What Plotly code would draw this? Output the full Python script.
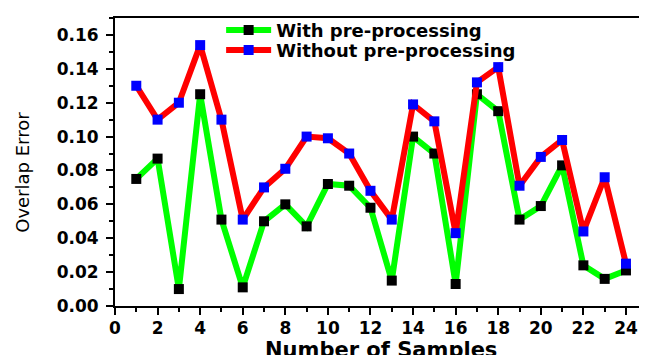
import plotly.graph_objects as go

samples = list(range(1, 25))
with_pre = [0.075, 0.087, 0.010, 0.125, 0.051, 0.011, 0.050, 0.060, 0.047, 0.072, 0.071, 0.058,
            0.015, 0.100, 0.090, 0.013, 0.125, 0.115, 0.051, 0.059, 0.083, 0.024, 0.016, 0.021]
without_pre = [0.130, 0.110, 0.120, 0.154, 0.110, 0.051, 0.070, 0.081, 0.100, 0.099, 0.090, 0.068,
               0.051, 0.119, 0.109, 0.043, 0.132, 0.141, 0.071, 0.088, 0.098, 0.044, 0.076, 0.025]

x_ticks = list(range(0, 25, 2))
y_ticks = [0.00, 0.02, 0.04, 0.06, 0.08, 0.10, 0.12, 0.14, 0.16]
y_ticktext = [f"{v:.2f}" for v in y_ticks]

FONT_B = "DejaVu Sans"

fig = go.Figure()
fig.add_trace(go.Scatter(
    x=samples, y=with_pre, name="With pre-processing", mode="lines+markers",
    line=dict(color="#00FF00", width=6),
    marker=dict(symbol="square", size=10, color="black"),
    legend="legend",
))
fig.add_trace(go.Scatter(
    x=samples, y=without_pre, name="Without pre-processing", mode="lines+markers",
    line=dict(color="#FF0000", width=6),
    marker=dict(symbol="square", size=10, color="#0000FF"),
    legend="legend2",
))

axis_common = dict(
    showline=True, linecolor="black", linewidth=2, mirror=True,
    showgrid=False, zeroline=False, automargin=False,
    ticks="outside", ticklen=7, tickwidth=2, tickcolor="black",
    tickfont=dict(family=FONT_B, size=17, color="black", weight="bold"),
)

fig.update_xaxes(
    range=[0, 24.8], tickmode="array", tickvals=x_ticks, ticktext=[str(v) for v in x_ticks],
    minor=dict(ticks="outside", ticklen=4, tickwidth=2, tickcolor="black", dtick=1),
    ticklabelstandoff=-1,
    **axis_common,
)
fig.update_yaxes(
    range=[0, 0.17], tickmode="array", tickvals=y_ticks, ticktext=y_ticktext,
    minor=dict(ticks="outside", ticklen=4, tickwidth=2, tickcolor="black", dtick=0.01),
    ticklabelstandoff=4,
    **axis_common,
)

legend_common = dict(
    xanchor="left", yanchor="middle", bgcolor="rgba(0,0,0,0)", itemwidth=45,
    font=dict(family=FONT_B, size=18, color="black", weight="bold"),
)

# The page body adds an 8px margin, so the figure is 8px smaller and margins shifted.
fig.update_layout(
    width=639, height=347,
    margin=dict(l=107, r=4, t=5, b=49),
    plot_bgcolor="white", paper_bgcolor="white",
    legend=dict(x=0.201, y=0.957, **legend_common),
    legend2=dict(x=0.201, y=0.888, **legend_common),
    showlegend=True,
    annotations=[
        dict(text="<b>Number of Samples</b>", xref="paper", yref="paper",
             x=0.503, y=-0.152, xanchor="center", yanchor="middle", showarrow=False,
             font=dict(family=FONT_B, size=21, color="black")),
        dict(text="Overlap Error", xref="paper", yref="paper",
             x=-0.174, y=0.463, xanchor="center", yanchor="middle", showarrow=False,
             textangle=-90, font=dict(family=FONT_B, size=18, color="black")),
    ],
)

fig.write_html("out.html")
